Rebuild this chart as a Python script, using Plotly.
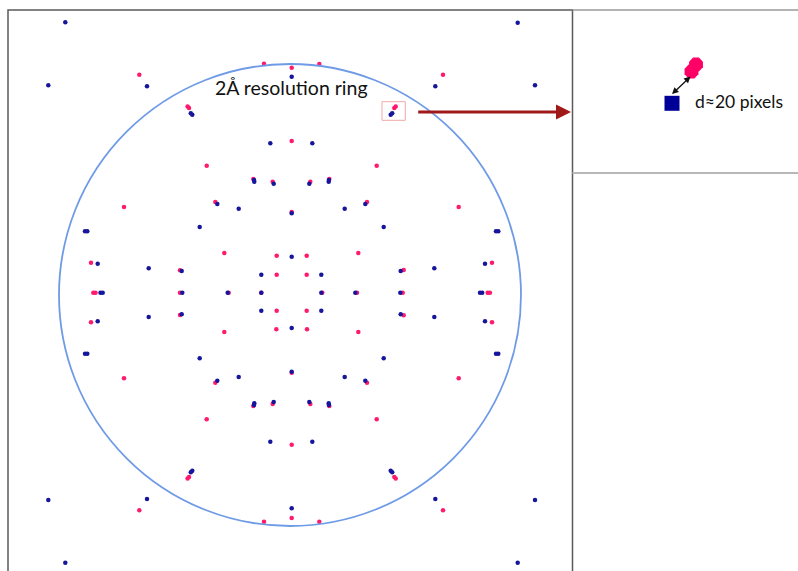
import plotly.graph_objects as go

# Spot positions (detector pixel coords of the picture)
blue_x = [65.3, 517.7, 48.3, 535, 147, 435.3, 291.7,
          192.3, 190.8, 390.7, 392.2, 270.3, 312.3,
          254.3, 254.0, 273.7, 309.3, 328.7, 328.9,
          217.3, 365.3, 238.7, 344.7, 291.7,
          85, 87.3, 496, 498.3, 199.7, 383.7,
          291.7,
          97.7, 485, 148.7, 434.3, 181.7, 400.7,
          261.3, 321.3,
          100.5, 102.7, 182.3, 227.7, 261.3, 321.3, 355.3, 400.3, 480, 482.2,
          261.3, 321.3,
          181.7, 400.7, 148.7, 434.3, 97.7, 485,
          291.7,
          85, 87.3, 496, 498.3, 199.7, 383.7,
          291.7, 238.7, 344.7, 217.3, 365.3,
          254.3, 254.0, 273.7, 309.3, 328.7, 328.9,
          270.3, 312.3,
          192.3, 190.8, 390.7, 392.2,
          147, 435.3, 48.3, 535, 291.7,
          65.3, 517.7]
blue_y = [22.3, 22.7, 85.3, 85.3, 86.3, 86.3, 76.7,
          114.7, 113.2, 114.7, 113.2, 143.3, 143.3,
          181.7, 180.0, 183.7, 183.7, 181.7, 180.0,
          204, 204, 208.7, 208.7, 213.3,
          231.3, 231.3, 231.3, 231.3, 227, 227,
          256.7,
          263.7, 263.7, 268.3, 268.3, 271, 271,
          274.7, 274.7,
          292.7, 292.7, 292.7, 292.7, 292.7, 292.7, 292.7, 292.7, 292.7, 292.7,
          310.7, 310.7,
          314.3, 314.3, 317, 317, 321.3, 321.3,
          328,
          353.7, 353.7, 353.7, 353.7, 358.3, 358.3,
          371.7, 377, 377, 380.7, 380.7,
          403.3, 405.0, 402, 402, 403.3, 405.0,
          441.7, 441.7,
          470.7, 472.2, 470.7, 472.2,
          499, 499, 500, 500, 508.3,
          562.7, 562.7]

pink_x = [139.3, 443, 264, 319.3, 291.7,
          187.6, 189.0, 395.7, 394.3, 291.7, 206.7, 376.7,
          253.3, 272.7, 310.3, 329.3,
          215.3, 367, 124, 458.7, 291.7,
          224.3, 358.3, 276.7, 306.7,
          91, 492, 180, 403.7,
          276.7, 306.7,
          93.3, 95.5, 180, 228.7, 261.3, 322.3, 357, 402.7, 487.7, 489.9,
          276.7, 306.7,
          180, 403.7, 91, 492,
          276.3, 307, 224.3, 358.3,
          124, 458.7, 291.7, 215.3, 367,
          253.3, 272.7, 310.3, 329.3,
          206.7, 376.7, 291.7,
          187.6, 189.0, 395.7, 394.3,
          139.3, 443, 291.7, 264, 319.3]
pink_y = [74.7, 74.7, 63.7, 64, 67.7,
          106.6, 108.0, 106.6, 108.0, 141, 165.7, 165.7,
          179, 181.7, 181.7, 179,
          202, 202, 207, 207, 212,
          253, 253, 255.7, 255.7,
          262.7, 262.7, 270.3, 270,
          274.7, 274.7,
          292.7, 292.7, 292.7, 292.7, 292.7, 292.7, 292.7, 292.7, 292.7, 292.7,
          310.7, 310.7,
          315, 315.3, 322.3, 322.3,
          329.3, 329.3, 332, 332,
          378.3, 378.3, 372.7, 382.7, 382.7,
          406, 404, 404, 406,
          419.3, 419.3, 444.7,
          478.4, 477.0, 478.4, 477.0,
          510.3, 510.3, 518, 521.7, 521.7]

# Inset: magnified pair of spots (pink blob drawn as two overlapping pieces)
inset_pink_x = [696, 691.5]
inset_pink_y = [64.5, 71.5]
inset_blue_x = [672]
inset_blue_y = [103.3]

# Resolution ring (centre, radius)
ring_cx, ring_cy, ring_r = 290, 295, 231

PINK = "#ff1a6e"
BLUE = "#16169c"

fig = go.Figure()
fig.add_trace(go.Scatter(x=pink_x, y=pink_y, mode="markers",
                         marker=dict(size=4.5, color=PINK, line=dict(width=0)),
                         hoverinfo="skip", showlegend=False))
fig.add_trace(go.Scatter(x=blue_x, y=blue_y, mode="markers",
                         marker=dict(size=4.5, color=BLUE, line=dict(width=0)),
                         hoverinfo="skip", showlegend=False))
fig.add_trace(go.Scatter(x=inset_pink_x, y=inset_pink_y, mode="markers",
                         marker=dict(size=15, color="#ff0066", symbol="octagon",
                                     line=dict(width=0)),
                         hoverinfo="skip", showlegend=False))
fig.add_trace(go.Scatter(x=inset_blue_x, y=inset_blue_y, mode="markers",
                         marker=dict(size=15, color="#000099", symbol="square",
                                     line=dict(width=0)),
                         hoverinfo="skip", showlegend=False))

shapes = [
    # main panel frame
    dict(type="rect", x0=8, x1=572.5, y0=10, y1=580,
         line=dict(color="#5a5a5a", width=1.5)),
    # inset frame
    dict(type="line", x0=572.5, x1=800, y0=10, y1=10,
         line=dict(color="#9a9a9a", width=1.5)),
    dict(type="line", x0=572.5, x1=800, y0=173, y1=173,
         line=dict(color="#b8b8b8", width=2)),
    # resolution ring
    dict(type="circle", x0=ring_cx - ring_r, x1=ring_cx + ring_r,
         y0=ring_cy - ring_r, y1=ring_cy + ring_r,
         line=dict(color="#6f9be6", width=1.8)),
    # small highlight box
    dict(type="rect", x0=382, x1=405.3, y0=101.7, y1=120.3,
         line=dict(color="#f0a8a8", width=1)),
]
fig.update_layout(shapes=shapes)

fig.add_annotation(x=571, y=112, ax=416.7, ay=112, xref="x", yref="y",
                   axref="x", ayref="y", text="", showarrow=True,
                   arrowhead=2, arrowsize=1, arrowwidth=3,
                   arrowcolor="#a01818", standoff=0)
fig.add_annotation(x=690.5, y=76.5, ax=670.5, ay=95.5, xref="x", yref="y",
                   axref="x", ayref="y", text="", showarrow=True,
                   arrowhead=2, startarrowhead=2, arrowside="end+start",
                   arrowsize=1, startarrowsize=1, arrowwidth=1.3,
                   arrowcolor="#111111", standoff=0, startstandoff=0)
fig.add_annotation(x=213, y=87, xref="x", yref="y", text="2Å resolution ring",
                   showarrow=False, xanchor="left", yanchor="middle",
                   font=dict(family="Lato", size=19.5, color="#111111"))
fig.add_annotation(x=692.5, y=101.5, xref="x", yref="y", text="d≈20 pixels",
                   showarrow=False, xanchor="left", yanchor="middle",
                   font=dict(family="Lato", size=17.5, color="#111111"))

fig.update_xaxes(range=[0, 798], visible=False, fixedrange=True)
fig.update_yaxes(range=[571, 0], visible=False, fixedrange=True)
fig.update_layout(width=798, height=571, margin=dict(l=0, r=0, t=0, b=0),
                  paper_bgcolor="white", plot_bgcolor="white",
                  showlegend=False)

fig.write_html("out.html", config={"displayModeBar": False},
               post_script="document.body.style.margin='0';"
                           "document.body.style.overflow='hidden';")
